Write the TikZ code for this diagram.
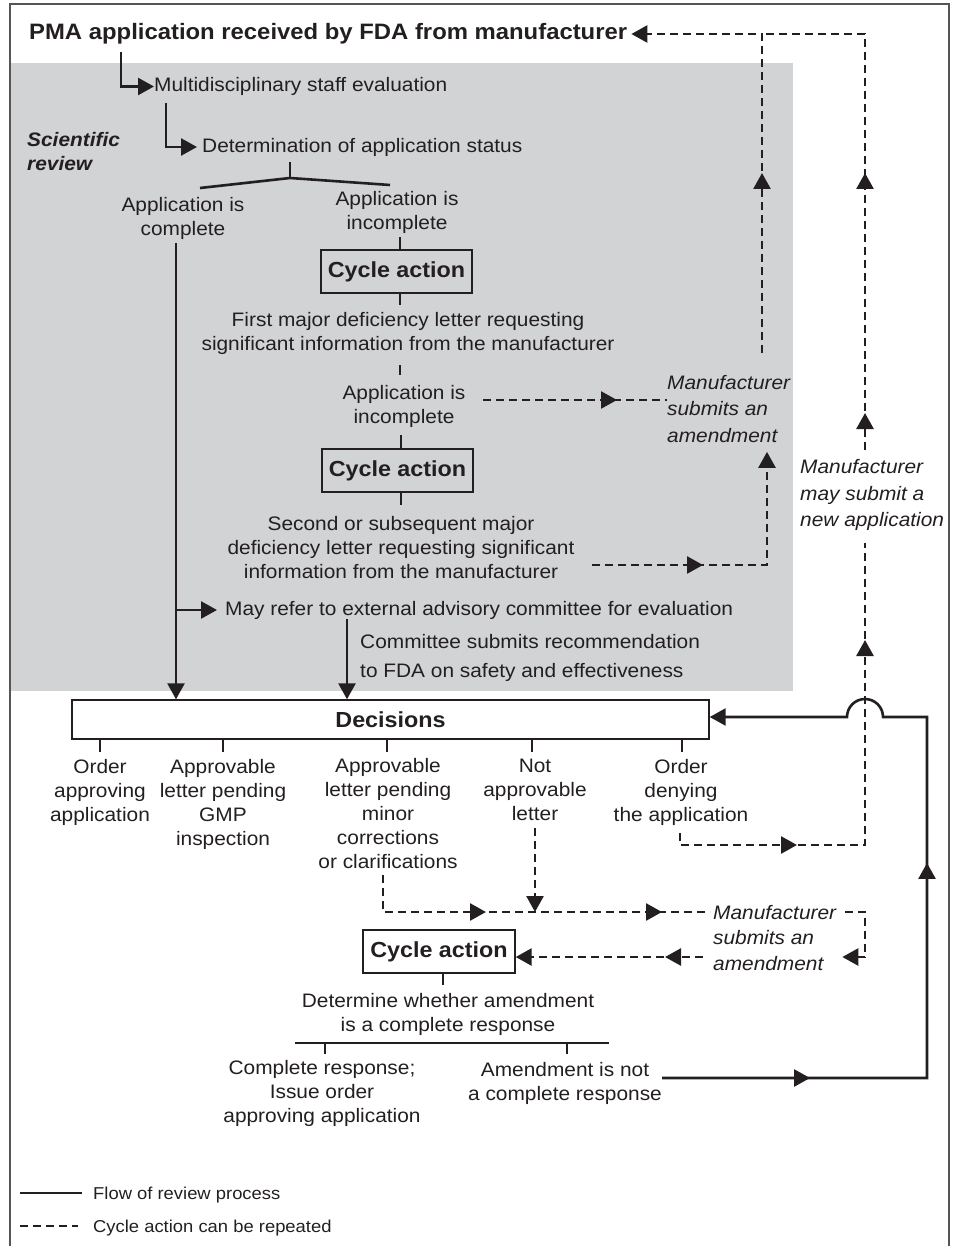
\documentclass[tikz,border=0pt]{standalone}
\usepackage{fontspec}
\setmainfont{Liberation Sans}[FakeStretch=1.07]
\usetikzlibrary{arrows.meta,decorations.markings}
\definecolor{ink}{HTML}{231F20}
\definecolor{panel}{HTML}{D1D3D4}
\definecolor{framegray}{HTML}{555555}

\begin{document}
\begin{tikzpicture}[x=1pt,y=-1pt,>={Triangle[length=16pt,width=17pt]},
	text node/.style={inner sep=0pt,align=center,text=ink,font=\fontsize{19.5}{24}\selectfont},
	note node/.style={text node,anchor=west,align=left,font=\fontsize{19.5}{26.5}\selectfont\itshape},
	cycle box/.style={draw=ink,line width=1.4pt,inner sep=0pt,minimum width=151pt,minimum height=43pt,text=ink,font=\fontsize{21.8}{26}\selectfont\bfseries},
	flow line/.style={draw=ink,line width=2.6pt},
	cycle line/.style={draw=ink,line width=2.6pt,dash pattern=on 8pt off 5pt},
	mid arrow/.style={postaction={decorate,decoration={markings,mark=at position #1 with {\arrow{Triangle[length=16pt,width=17pt]}}}}}]
			
			\useasboundingbox (0,0) rectangle (961,1246);
			\fill[panel] (10,63) rectangle (793,691);
			\draw[framegray,line width=1.6pt] (10,1250) -- (10,4) -- (949,4) -- (949,1250);
			
			% scientific review
			\node[text node,anchor=west,font=\fontsize{22.3}{26}\selectfont\bfseries] (1) at (29,34) {PMA application received by FDA from manufacturer};
			\node[text node,anchor=west] (2) at (154,86.5) {Multidisciplinary staff evaluation};
			\node[text node,anchor=west] (3) at (202,147) {Determination of application status};
			\node[text node,anchor=west,align=left,font=\fontsize{19.5}{24}\selectfont\bfseries\itshape] (4) at (27,152) {Scientific\\review};
			\node[text node] (5) at (183,218) {Application is\\complete};
			\node[text node] (6) at (397,212) {Application is\\incomplete};
			\node[cycle box] (7) at (396.5,271.5) {Cycle action};
			\node[text node] (8) at (408,333) {First major deficiency letter requesting\\significant information from the manufacturer};
			\node[text node] (9) at (404,406) {Application is\\incomplete};
			\node[cycle box] (10) at (397.5,470.5) {Cycle action};
			\node[text node] (11) at (401,548) {Second or subsequent major\\deficiency letter requesting significant\\information from the manufacturer};
			\node[text node,anchor=west] (12) at (225,610) {May refer to external advisory committee for evaluation};
			\node[text node,anchor=west,align=left,font=\fontsize{19.5}{28.5}\selectfont] (13) at (360,658) {Committee submits recommendation\\to FDA on safety and effectiveness};
			\node[note node] (14) at (667,409) {Manufacturer\\submits an\\amendment};
			\node[note node] (15) at (800,495) {Manufacturer\\may submit a\\new application};
			
			% decisions
			\node[cycle box,minimum width=637pt,minimum height=39pt,fill=white] (16) at (390.5,719.5) {Decisions};
			\node[text node] (17) at (100,792) {Order\\approving\\application};
			\node[text node] (18) at (223,804) {Approvable\\letter pending\\GMP\\inspection};
			\node[text node] (19) at (388,814) {Approvable\\letter pending\\minor\\corrections\\or clarifications};
			\node[text node] (20) at (535,790) {Not\\approvable\\letter};
			\node[text node] (21) at (681,792) {Order\\denying\\the application};
			\node[note node,font=\fontsize{19.5}{25.5}\selectfont\itshape] (22) at (713,938) {Manufacturer\\submits an\\amendment};
			\node[cycle box,minimum width=152pt] (23) at (439,951.5) {Cycle action};
			\node[text node] (24) at (448,1014) {Determine whether amendment\\is a complete response};
			\node[text node] (25) at (322,1093.5) {Complete response;\\Issue order\\approving application};
			\node[text node] (26) at (565,1083.5) {Amendment is not\\a complete response};
			
			% legend
			\node[text node,anchor=west,font=\fontsize{17.2}{20}\selectfont] (27) at (93,1195) {Flow of review process};
			\node[text node,anchor=west,font=\fontsize{17.2}{20}\selectfont] (28) at (93,1228) {Cycle action can be repeated};
			
			\coordinate (a1) at (121,52);
			\coordinate (a2) at (166,103);
			\coordinate (a3) at (290,178);
			\coordinate (a4) at (290,162);
			\coordinate (a5) at (200,188);
			\coordinate (a6) at (390,185);
			\coordinate (b1) at (176,0);
			\coordinate (b2) at (347,0);
			
			\draw[flow line,->] (a1) |- (2.west);
			\draw[flow line,->,shorten >=5pt] (a2) |- (3.west);
			\draw[flow line] (a4) -- (a3);
			\draw[flow line] (a5) -- (a3) -- (a6);
			\draw[flow line,->,shorten <=4pt] (5.south -| b1) -- (16.north -| b1);
			\draw[flow line,->,shorten >=8pt] (b1 |- 12.west) -- (12.west);
			\draw[flow line,->] (12.south -| b2) -- (16.north -| b2);
			
			\draw[flow line] (400,237) -- ++(0,13) (400,293) -- ++(0,12) (400,365) -- ++(0,10)
			(401,435) -- ++(0,14) (401,492) -- ++(0,13);
			\foreach \x in {100,223,387,532,682}
				\draw[flow line] (\x,739) -- ++(0,13);
			\draw[flow line] (443,973) -- ++(0,12);
			\draw[flow line] (295,1043) -- (609,1043) (325,1043) -- ++(0,11) (567,1043) -- ++(0,11);
			
			\coordinate (r1) at (927,1078);
			\coordinate (r2) at (927,717);
			\coordinate (r3) at (883,717);
			\draw[flow line,->,mid arrow=148pt,mid arrow=480pt] (26.east |- r1) -- (r1) -- (r2) -- (r3)
			arc[start angle=0,end angle=180,radius=18pt] -- (16.east |- r2);
			
			% cycle actions
			\coordinate (c1) at (483,400);
			\coordinate (c2) at (762,353);
			\coordinate (c3) at (592,565);
			\coordinate (c4) at (767,565);
			\coordinate (c5) at (680,833);
			\coordinate (c6) at (865,845);
			\coordinate (c7) at (865,543);
			\coordinate (c8) at (865,450);
			\coordinate (c9) at (383,875);
			\coordinate (c10) at (710,912);
			\coordinate (c11) at (845,912);
			\coordinate (c12) at (865,957);
			\coordinate (c14) at (703,957);
			
			\draw[cycle line,mid arrow=134pt] (c1) -- (14.west |- c1);
			\draw[cycle line,->,mid arrow=180pt,shorten >=4pt] (c2) |- (1.east);
			\draw[cycle line,->,mid arrow=111pt,shorten >=9pt] (c3) -- (c4) -- (c4 |- 14.south);
			\draw[cycle line,mid arrow=129pt,mid arrow=402pt] (c5) |- (c6) -- (c7);
			\draw[cycle line,mid arrow=37pt,mid arrow=277pt] (c8) |- (c2 |- 1.east);
			\draw[cycle line,mid arrow=140pt,mid arrow=316pt] (c9) |- (c10);
			\draw[cycle line,->] (20.south) ++(0,7) -- (c10 -| 20.south);
			\draw[cycle line,->,shorten >=6pt] (c11) -| (c12) -- (22.east |- c12);
			\draw[cycle line,->,mid arrow=38pt] (c14) -- (23.east |- c14);
			
			\draw[flow line] (20,1193) -- (82,1193);
			\draw[cycle line] (20,1226) -- (78,1226);
			\end{tikzpicture}
\end{document}
